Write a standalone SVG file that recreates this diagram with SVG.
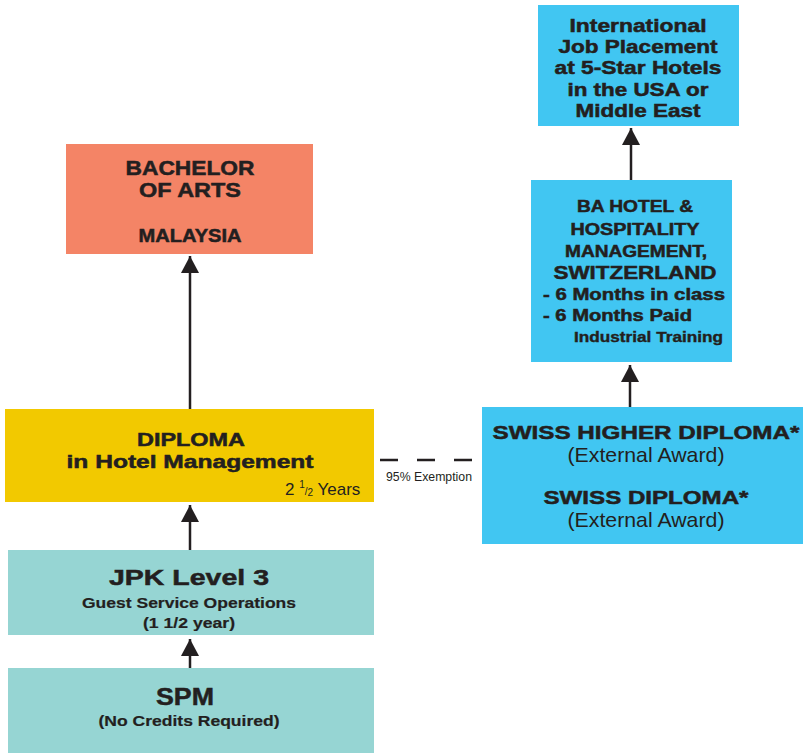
<svg xmlns="http://www.w3.org/2000/svg" width="803" height="756" viewBox="0 0 803 756">
<style>
.t{font-family:"Liberation Sans",Arial,sans-serif;font-weight:bold;fill:#231F20;stroke:#231F20;stroke-width:0.5;text-anchor:middle}
.n{font-family:"Liberation Sans Narrow","Liberation Sans",Arial,sans-serif;font-weight:normal;fill:#231F20;text-anchor:middle}
.c{stroke:#231F20;stroke-width:2.5;fill:none}
</style>
<defs>
<marker id="ah" markerUnits="userSpaceOnUse" markerWidth="17" markerHeight="18" refX="17" refY="9" orient="auto" viewBox="0 0 17 18">
<path d="M0,0 L17,9 L0,18 Z" fill="#231F20"/>
</marker>
</defs>
<rect width="803" height="756" fill="#ffffff"/>
<g id="connectors">
<line class="c" x1="190" y1="409" x2="190" y2="256" marker-end="url(#ah)"/>
<line class="c" x1="190" y1="550" x2="190" y2="505" marker-end="url(#ah)"/>
<line class="c" x1="190" y1="668" x2="190" y2="639" marker-end="url(#ah)"/>
<line class="c" x1="630" y1="407" x2="630" y2="365" marker-end="url(#ah)"/>
<line class="c" x1="631" y1="180" x2="631" y2="128" marker-end="url(#ah)"/>
<line class="c" x1="380" y1="460" x2="474" y2="460" stroke-dasharray="18 19"/>
<text class="n" x="429" y="481" font-size="13" textLength="86" lengthAdjust="spacingAndGlyphs">95% Exemption</text>
</g>
<g id="bachelor">
<rect x="66" y="144" width="247" height="110" fill="#F48466"/>
<text class="t" x="190" y="175" font-size="20" textLength="129" lengthAdjust="spacingAndGlyphs">BACHELOR</text>
<text class="t" x="190" y="197" font-size="20" textLength="102" lengthAdjust="spacingAndGlyphs">OF ARTS</text>
<text class="t" x="190" y="242" font-size="18" textLength="103" lengthAdjust="spacingAndGlyphs">MALAYSIA</text>
</g>
<g id="placement">
<rect x="538" y="5" width="201" height="121" fill="#41C6F2"/>
<text class="t" x="638" y="32" font-size="18" textLength="137" lengthAdjust="spacingAndGlyphs">International</text>
<text class="t" x="638" y="53" font-size="18" textLength="159" lengthAdjust="spacingAndGlyphs">Job Placement</text>
<text class="t" x="638" y="74" font-size="18" textLength="167" lengthAdjust="spacingAndGlyphs">at 5-Star Hotels</text>
<text class="t" x="638" y="96" font-size="18" textLength="141" lengthAdjust="spacingAndGlyphs">in the USA or</text>
<text class="t" x="638" y="117" font-size="18" textLength="125" lengthAdjust="spacingAndGlyphs">Middle East</text>
</g>
<g id="ba-hotel">
<rect x="531" y="180" width="201" height="182" fill="#41C6F2"/>
<text class="t" x="635" y="212" font-size="16" textLength="116" lengthAdjust="spacingAndGlyphs">BA HOTEL &amp;</text>
<text class="t" x="635" y="235" font-size="16" textLength="129" lengthAdjust="spacingAndGlyphs">HOSPITALITY</text>
<text class="t" x="636" y="257" font-size="16" textLength="142" lengthAdjust="spacingAndGlyphs">MANAGEMENT,</text>
<text class="t" x="635" y="279" font-size="18" textLength="163" lengthAdjust="spacingAndGlyphs">SWITZERLAND</text>
<text class="t" x="543" y="300" font-size="16" style="text-anchor:start" textLength="182" lengthAdjust="spacingAndGlyphs">- 6 Months in class</text>
<text class="t" x="543" y="321" font-size="16" style="text-anchor:start" textLength="149" lengthAdjust="spacingAndGlyphs">- 6 Months Paid</text>
<text class="t" x="574" y="342" font-size="15" style="text-anchor:start;stroke-width:0.4" textLength="149" lengthAdjust="spacingAndGlyphs">Industrial Training</text>
</g>
<g id="diploma">
<rect x="5" y="409" width="369" height="93" fill="#F2C900"/>
<text class="t" x="191" y="446" font-size="18" textLength="108" lengthAdjust="spacingAndGlyphs">DIPLOMA</text>
<text class="t" x="190" y="468" font-size="18" textLength="247" lengthAdjust="spacingAndGlyphs">in Hotel Management</text>
<text class="n" x="285" y="495" font-size="17" style="text-anchor:start">2 <tspan font-size="10" dy="-7">1</tspan><tspan font-size="10" dy="7">/</tspan><tspan font-size="10" dy="1">2</tspan><tspan dy="-1"> Years</tspan></text>
</g>
<g id="swiss">
<rect x="482" y="407" width="321" height="137" fill="#41C6F2"/>
<text class="t" x="646" y="439" font-size="19" textLength="307" lengthAdjust="spacingAndGlyphs">SWISS  HIGHER DIPLOMA*</text>
<text class="n" x="646" y="462" font-size="21" textLength="157" lengthAdjust="spacingAndGlyphs">(External Award)</text>
<text class="t" x="646" y="504" font-size="19" textLength="205" lengthAdjust="spacingAndGlyphs">SWISS DIPLOMA*</text>
<text class="n" x="646" y="527" font-size="21" textLength="157" lengthAdjust="spacingAndGlyphs">(External Award)</text>
</g>
<g id="jpk">
<rect x="8" y="550" width="366" height="85" fill="#96D5D3"/>
<text class="t" x="189" y="585" font-size="22" textLength="160" lengthAdjust="spacingAndGlyphs">JPK Level 3</text>
<text class="t" x="189" y="608" font-size="15" style="stroke-width:0.2" textLength="214" lengthAdjust="spacingAndGlyphs">Guest Service Operations</text>
<text class="t" x="189" y="628" font-size="15" style="stroke-width:0.2" textLength="92" lengthAdjust="spacingAndGlyphs">(1 1/2 year)</text>
</g>
<g id="spm">
<rect x="8" y="668" width="366" height="85" fill="#96D5D3"/>
<text class="t" x="185" y="705" font-size="24" textLength="58" lengthAdjust="spacingAndGlyphs">SPM</text>
<text class="t" x="189" y="726" font-size="15" style="stroke-width:0.2" textLength="181" lengthAdjust="spacingAndGlyphs">(No Credits Required)</text>
</g>
</svg>
